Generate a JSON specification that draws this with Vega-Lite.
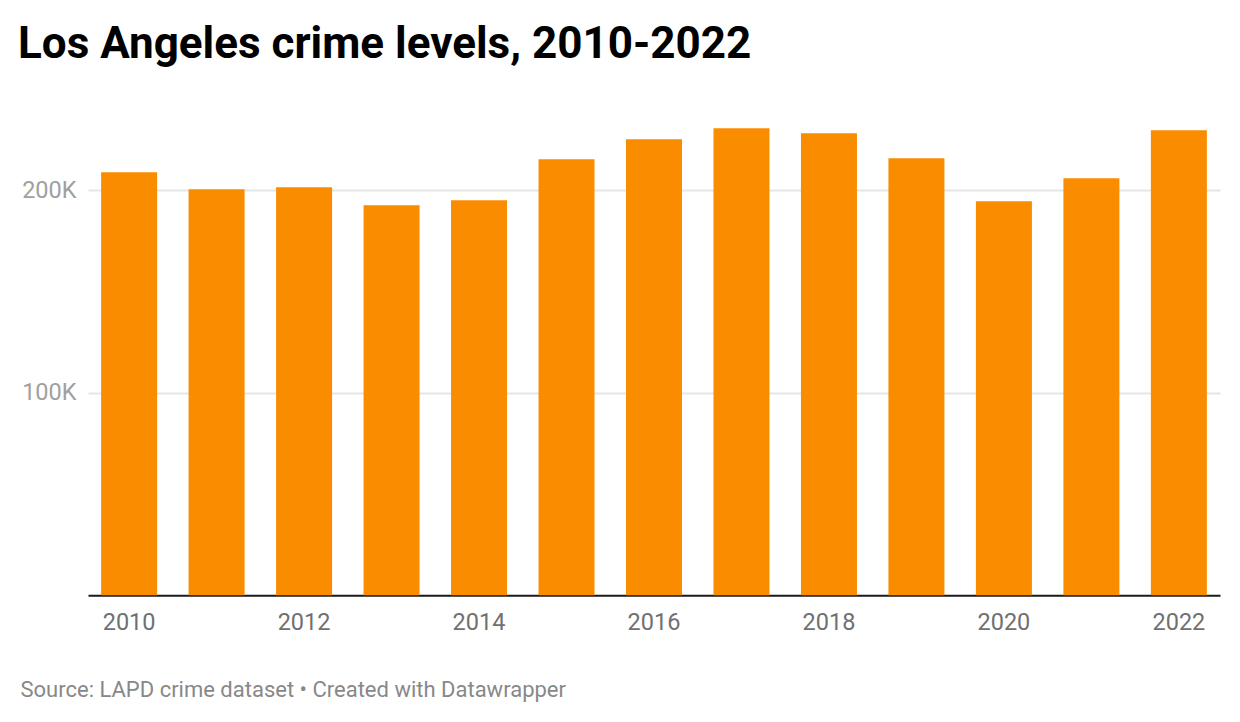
{
  "$schema": "https://vega.github.io/schema/vega-lite/v6.json",
  "autosize": {"type": "none"},
  "width": 1132,
  "height": 506.25,
  "padding": {"left": 88, "top": 89, "right": 20, "bottom": 127},
  "background": "white",
  "title": {
    "text": "Los Angeles crime levels, 2010-2022",
    "anchor": "start",
    "frame": "group",
    "dx": -70,
    "offset": 22,
    "font": "Roboto",
    "fontSize": 44,
    "fontWeight": "bold",
    "color": "#000000"
  },
  "config": {
    "view": {"stroke": null},
    "font": "Roboto"
  },
  "data": {
    "values": [
      {"year": 2010, "crimes": 208900},
      {"year": 2011, "crimes": 200500},
      {"year": 2012, "crimes": 201500},
      {"year": 2013, "crimes": 192600},
      {"year": 2014, "crimes": 195100},
      {"year": 2015, "crimes": 215300},
      {"year": 2016, "crimes": 225200},
      {"year": 2017, "crimes": 230600},
      {"year": 2018, "crimes": 228100},
      {"year": 2019, "crimes": 215800},
      {"year": 2020, "crimes": 194600},
      {"year": 2021, "crimes": 205900},
      {"year": 2022, "crimes": 229600}
    ]
  },
  "mark": {"type": "bar", "color": "#fa8c00"},
  "encoding": {
    "x": {
      "field": "year",
      "type": "ordinal",
      "scale": {"paddingInner": 0.36, "paddingOuter": 0.15},
      "axis": {
        "values": [2010, 2012, 2014, 2016, 2018, 2020, 2022],
        "labelAngle": 0,
        "labelFont": "Roboto",
        "labelFontSize": 23.5,
        "labelColor": "#707070",
        "labelPadding": 15,
        "ticks": false,
        "domain": true,
        "domainColor": "#1a1a1a",
        "domainWidth": 2,
        "title": "Source: LAPD crime dataset • Created with Datawrapper",
        "titleFont": "Roboto",
        "titleFontSize": 22,
        "titleFontWeight": "normal",
        "titleColor": "#888888",
        "titleAnchor": "start",
        "titleAlign": "left",
        "titleBaseline": "alphabetic",
        "titleX": -68,
        "titleY": 101
      }
    },
    "y": {
      "field": "crimes",
      "type": "quantitative",
      "scale": {"domain": [0, 250000], "nice": false},
      "axis": {
        "values": [100000, 200000],
        "format": "~s",
        "labelExpr": "replace(datum.label, 'k', 'K')",
        "labelFont": "Roboto",
        "labelFontSize": 23.5,
        "labelColor": "#a0a0a0",
        "labelPadding": 12,
        "ticks": false,
        "domain": false,
        "grid": true,
        "gridColor": "#e5e5e5",
        "gridWidth": 2,
        "title": null
      }
    }
  }
}
